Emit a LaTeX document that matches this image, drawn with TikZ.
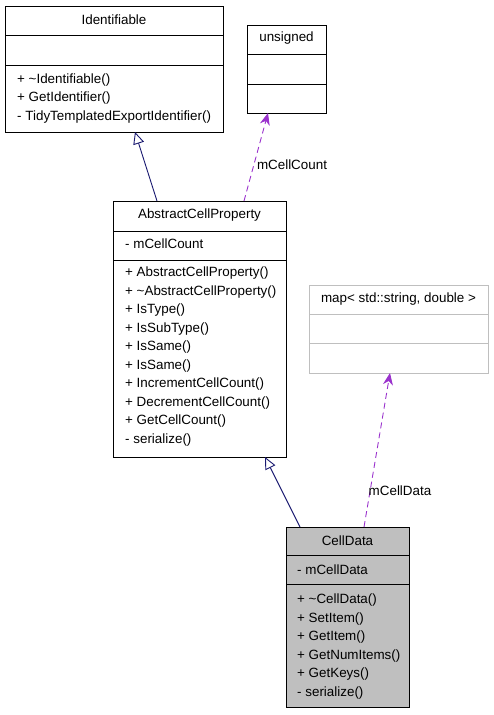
\documentclass[tikz,border=0pt]{standalone}
\usepackage{fontspec}
\setmainfont{Liberation Sans}
\usetikzlibrary{arrows.meta}
\definecolor{edgeblue}{HTML}{191970}
\definecolor{edgepurple}{HTML}{9A32CD}
\definecolor{boxgray}{HTML}{BFBFBF}
\definecolor{lightline}{HTML}{BFBFBF}
\begin{document}
\begin{tikzpicture}[x=1pt,y=-1pt,
  box/.style={draw=black, line width=1pt, inner sep=0pt, anchor=north west},
  title/.style={font=\fontsize{13.4}{15}\selectfont, inner sep=0pt, anchor=center},
  member/.style={font=\fontsize{13.4}{15}\selectfont, inner sep=0pt, anchor=west},
  inherit/.style={draw=edgeblue, line width=0.9pt, -{Triangle[open, length=12pt, width=11pt]}},
  useedge/.style={draw=edgepurple, line width=0.9pt, dash pattern=on 6pt off 4pt, -{Stealth[length=12pt, width=10pt]}},
  elabel/.style={font=\fontsize{13.4}{15}\selectfont, inner sep=0pt}]
\useasboundingbox (0,0) rectangle (493,715);

% Identifiable
\node[box, minimum width=218pt, minimum height=126pt] (ident) at (5,6) {};
\draw[line width=1pt] (5,35) -- (223,35) (5,65) -- (223,65);
\node[title] (identT) at (114,20) {Identifiable};
\node[member] (identM1) at (17,80) {+ \textasciitilde Identifiable()};
\node[member] (identM2) at (17,98.5) {+ GetIdentifier()};
\node[member] (identM3) at (17,117) {- TidyTemplatedExportIdentifier()};

% unsigned
\node[box, minimum width=79pt, minimum height=88pt] (uns) at (247,25) {};
\draw[line width=1pt] (247,54) -- (326,54) (247,84) -- (326,84);
\node[title] (unsT) at (286.5,38.5) {unsigned};

% AbstractCellProperty
\node[box, minimum width=173pt, minimum height=256pt] (acp) at (113,201) {};
\draw[line width=1pt] (113,231) -- (286,231) (113,260) -- (286,260);
\node[title] (acpT) at (199.5,215.5) {AbstractCellProperty};
\node[member] (acpA1) at (125,243.5) {- mCellCount};
\foreach \t [count=\i from 0] in {+ AbstractCellProperty(), + \textasciitilde AbstractCellProperty(), + IsType(), + IsSubType(), + IsSame(), + IsSame(), + IncrementCellCount(), + DecrementCellCount(), + GetCellCount(), - serialize()}
  \node[member] (acpM\i) at (125,{273.5+18.5*\i}) {\t};

% map
\node[box, draw=lightline, minimum width=179pt, minimum height=88pt] (map) at (309,285) {};
\draw[line width=1pt, lightline] (309,314) -- (488,314) (309,343) -- (488,343);
\node[title] (mapT) at (398.5,299.5) {map< std::string, double >};

% CellData
\node[box, fill=boxgray, minimum width=123pt, minimum height=180pt] (cd) at (286,527) {};
\draw[line width=1pt] (286,555) -- (409,555) (286,584) -- (409,584);
\node[title] (cdT) at (347.5,540.5) {CellData};
\node[member] (cdA1) at (297,569.5) {- mCellData};
\foreach \t [count=\i from 0] in {+ \textasciitilde CellData(), + SetItem(), + GetItem(), + GetNumItems(), + GetKeys(), - serialize()}
  \node[member] (cdM\i) at (297,{600+18.6*\i}) {\t};

% connectors
\coordinate (e1s) at (157,201); \coordinate (e1t) at (135,132);
\draw[inherit] (e1s) -- (e1t);
\coordinate (e2s) at (244,201); \coordinate (e2t) at (268,113);
\draw[useedge] (e2s) -- (e2t);
\node[elabel] (l2) at (292,165) {mCellCount};
\coordinate (e3s) at (300,527); \coordinate (e3t) at (265,457);
\draw[inherit] (e3s) -- (e3t);
\coordinate (e4s) at (364,527); \coordinate (e4t) at (390,373);
\draw[useedge] (e4s) -- (e4t);
\node[elabel] (l4) at (400,491) {mCellData};
\end{tikzpicture}
\end{document}
